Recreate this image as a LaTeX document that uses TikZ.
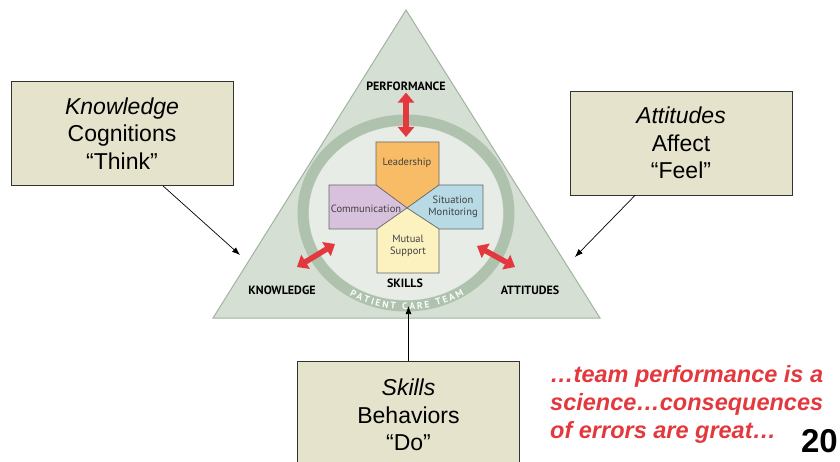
\documentclass[tikz,border=0pt]{standalone}
\usepackage{fontspec}
\setmainfont{Liberation Sans}
\newfontfamily\labelfont{PT Sans}
\usetikzlibrary{arrows.meta, positioning, decorations.text}

\definecolor{trifill}{HTML}{D5DFD4}
\definecolor{triline}{HTML}{A2B3A1}
\definecolor{ringband}{HTML}{AEC2AD}
\definecolor{ringin}{HTML}{E8ECE6}
\definecolor{boxfill}{HTML}{E5E3CC}
\definecolor{leadcol}{HTML}{F8BC66}
\definecolor{commcol}{HTML}{D8C1DC}
\definecolor{situcol}{HTML}{B7DAE5}
\definecolor{mutucol}{HTML}{FBF2C0}
\definecolor{arrred}{HTML}{E3393E}

\begin{document}
\begin{tikzpicture}[x=1pt, y=-1pt,
	callout/.style={draw=black!80, fill=boxfill, line width=0.8pt, minimum width=222pt, minimum height=104pt, inner sep=0pt, align=center, font=\fontsize{23}{27.5}\selectfont},
	pointer/.style={-{Latex[length=8pt, width=6pt]}, line width=0.7pt},
	bigarrow/.style={{Triangle[length=10pt, width=16pt]}-{Triangle[length=10pt, width=16pt]}, line width=5.5pt, draw=arrred},
	corner/.style={font=\labelfont\bfseries\fontsize{12}{14}\selectfont, inner sep=1pt},
	skill/.style={draw=black!60, line width=0.6pt},
	skilltext/.style={font=\labelfont\fontsize{10.5}{12}\selectfont, text=black!75, align=center, inner sep=0pt}]

	\useasboundingbox (0,0) rectangle (840,462);
	\clip (0,0) rectangle (840,462);

	% Draw the triangle
	\draw[fill=trifill, draw=triline, line width=1pt] (213,318) -- (600,318) -- (406,10) -- cycle;

	% Draw the ring round the team
	\fill[ringin] (406,213) ellipse [x radius=97, y radius=87];
	\draw[ringband, line width=11pt] (406,213) ellipse [x radius=103, y radius=93];
	\path[decorate, decoration={text along path, text align={fit to path},
		text={|\labelfont\bfseries\fontsize{9.5}{11}\selectfont\color{white!85!ringin}|PATIENT CARE TEAM}}]
		(406,213) ++(122:107 and 97) arc[start angle=122, end angle=57, x radius=107, y radius=97];

	% Draw the four skills
	\draw[skill, fill=leadcol] (376,142) -- (439,142) -- (439,185) -- (407,208) -- (376,185) -- cycle;
	\draw[skill, fill=commcol] (329,185) -- (376,185) -- (407,208) -- (377,229) -- (329,229) -- cycle;
	\draw[skill, fill=situcol] (439,185) -- (483,185) -- (483,229) -- (439,229) -- (407,208) -- cycle;
	\draw[skill, fill=mutucol] (377,229) -- (407,208) -- (439,229) -- (439,273) -- (377,273) -- cycle;

	\node[skilltext] (lead) at (407,163) {Leadership};
	\node[skilltext] (comm) at (366,209) {Communication};
	\node[skilltext] (situ) at (453,207) {Situation\\Monitoring};
	\node[skilltext] (mutu) at (408,246) {Mutual\\Support};

	% Corner labels
	\node[corner] (perf) at (406,86) {PERFORMANCE};
	\node[corner] (know) at (282,290) {KNOWLEDGE};
	\node[corner] (skil) at (405,283) {SKILLS};
	\node[corner] (atti) at (530,290) {ATTITUDES};

	% Red double arrows
	\coordinate (perfend) at (406,137);
	\coordinate (knowa) at (297,267);
	\coordinate (knowb) at (335,244);
	\coordinate (attia) at (477,246);
	\coordinate (attib) at (515,267);
	\draw[bigarrow] ([yshift=-1pt]perf.south) -- (perfend);
	\draw[bigarrow] (knowa) -- (knowb);
	\draw[bigarrow] (attia) -- (attib);

	% Draw the boxes
	\node[callout] (knowbox) at (122,133.5) {\textit{Knowledge}\\Cognitions\\“Think”};
	\node[callout] (attibox) at (681,143) {\textit{Attitudes}\\Affect\\“Feel”};
	\node[callout, minimum height=108pt] (skilbox) at (408.5,415) {\textit{Skills}\\Behaviors\\“Do”};

	% Arrows from the boxes into the triangle
	\coordinate (knowtip) at (240,255);
	\coordinate (attitip) at (575,257);
	\coordinate (skiltip) at (408.5,306);
	\draw[pointer] ([xshift=41pt]knowbox.south) -- (knowtip);
	\draw[pointer] ([xshift=-46pt]attibox.south) -- (attitip);
	\draw[pointer] (skilbox.north) -- (skiltip);

	\node[anchor=base west, align=left, inner sep=0pt, text=arrred, font=\bfseries\itshape\fontsize{23.5}{28}\selectfont] (quote) at (550,438) {…team performance is a\\science…consequences\\of errors are great…};
	\node[anchor=base east, inner sep=0pt, font=\bfseries\fontsize{33}{36}\selectfont] (pagenum) at (838,452) {20};
\end{tikzpicture}
\end{document}
